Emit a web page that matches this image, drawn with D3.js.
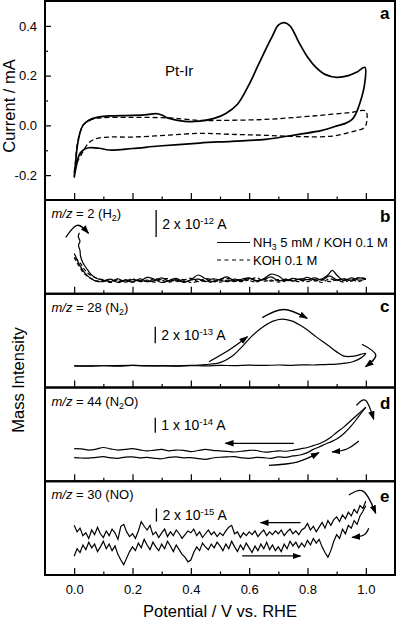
<!DOCTYPE html>
<html>
<head>
<meta charset="utf-8">
<script src="https://cdn.jsdelivr.net/npm/d3@7"></script>
<style>
  body { margin: 0; background: #fff; }
  svg { display: block; font-family: "Liberation Sans", Arial, sans-serif; }
</style>
</head>
<body>
<script>
  // ---- data ----
  // panel a: cyclic voltammograms, [E / V, I / mA], in scan order
  const cvNH3 = [
    [0, -0.21], [0.005, -0.15], [0.01, -0.09], [0.02, -0.03], [0.03, 0.0], [0.04, 0.012],
    [0.06, 0.026], [0.086, 0.034], [0.12, 0.038], [0.2, 0.04], [0.25, 0.043], [0.28, 0.047],
    [0.3, 0.042], [0.32, 0.03], [0.35, 0.021], [0.38, 0.016], [0.43, 0.017], [0.48, 0.028],
    [0.52, 0.048], [0.56, 0.085], [0.6, 0.165], [0.63, 0.24], [0.656, 0.304], [0.68, 0.36],
    [0.7, 0.403], [0.72, 0.413], [0.74, 0.4], [0.77, 0.335], [0.8, 0.275], [0.83, 0.232],
    [0.86, 0.205], [0.9, 0.193], [0.94, 0.2], [0.97, 0.215], [0.997, 0.233],
    [0.995, 0.16], [0.985, 0.11], [0.976, 0.077], [0.965, 0.045], [0.953, 0.024], [0.93, 0.008],
    [0.907, 0.0], [0.85, -0.02], [0.77, -0.036], [0.656, -0.056], [0.54, -0.064], [0.43, -0.071],
    [0.29, -0.083], [0.2, -0.093], [0.12, -0.099], [0.086, -0.092], [0.05, -0.09], [0.03, -0.1],
    [0.017, -0.12], [0.008, -0.16], [0, -0.21]
  ];
  const cvKOH = [
    [0, -0.19], [0.005, -0.14], [0.01, -0.08], [0.02, -0.03], [0.03, 0.0], [0.045, 0.015],
    [0.074, 0.028], [0.1, 0.031], [0.2, 0.032], [0.3, 0.031], [0.35, 0.028], [0.43, 0.02],
    [0.5, 0.02], [0.656, 0.024], [0.8, 0.036], [0.885, 0.045], [0.95, 0.052], [1.0, 0.057],
    [1.0, 0.0], [0.99, -0.013], [0.965, -0.022], [0.885, -0.043], [0.77, -0.045], [0.656, -0.04],
    [0.54, -0.036], [0.43, -0.032], [0.314, -0.04], [0.2, -0.047], [0.12, -0.047], [0.074, -0.054],
    [0.05, -0.07], [0.028, -0.11], [0.01, -0.15], [0, -0.19]
  ];

  // panels b-e: mass signal, [E / V, intensity in arbitrary units 0-10]
  const h2NH3Up = [
    [0, 4.3], [0.005, 4.0], [0.01, 3.6], [0.02, 3.0], [0.03, 2.5], [0.04, 2.1], [0.05, 1.8],
    [0.06, 1.6], [0.075, 1.35], [0.1, 1.3], [0.125, 1.55], [0.15, 1.2], [0.175, 1.45], [0.2, 1.25],
    [0.225, 1.6], [0.25, 1.3], [0.275, 1.4], [0.3, 1.7], [0.325, 1.35], [0.35, 1.5], [0.375, 1.2],
    [0.4, 1.45], [0.425, 1.55], [0.45, 1.3], [0.475, 1.6], [0.5, 1.45], [0.525, 1.3], [0.55, 1.55],
    [0.575, 1.4], [0.6, 1.65], [0.625, 1.35], [0.65, 1.5], [0.675, 1.8], [0.7, 1.4], [0.725, 1.55],
    [0.75, 1.35], [0.775, 1.6], [0.8, 1.5], [0.825, 1.7], [0.85, 1.45], [0.875, 1.9], [0.9, 1.5],
    [0.925, 1.6], [0.95, 1.45], [0.975, 1.7], [1.0, 1.55]
  ];
  const h2NH3Down = [
    [1.0, 1.55], [0.975, 1.45], [0.95, 1.7], [0.925, 1.4], [0.9, 2.0], [0.885, 2.5], [0.87, 2.0],
    [0.85, 1.6], [0.825, 1.45], [0.8, 1.75], [0.775, 1.5], [0.75, 1.65], [0.725, 1.4], [0.7, 1.9],
    [0.675, 2.1], [0.65, 1.6], [0.625, 1.4], [0.6, 1.7], [0.575, 1.55], [0.55, 1.35], [0.525, 1.8],
    [0.5, 1.55], [0.475, 1.3], [0.45, 1.6], [0.425, 2.0], [0.4, 1.5], [0.375, 1.3], [0.35, 1.65],
    [0.325, 1.4], [0.3, 1.2], [0.275, 1.55], [0.25, 1.75], [0.225, 1.35], [0.2, 1.5], [0.175, 1.25],
    [0.15, 1.6], [0.125, 1.3], [0.1, 1.45], [0.08, 1.6], [0.06, 2.0], [0.045, 2.6], [0.03, 3.3],
    [0.022, 4.0], [0.02, 4.6], [0.015, 5.2], [0.02, 5.6], [0.014, 6.1], [0.018, 6.5]
  ];
  const h2KOHUp = [
    [0, 3.9], [0.005, 3.6], [0.01, 3.3], [0.02, 2.8], [0.03, 2.3], [0.04, 2.0], [0.05, 1.75],
    [0.065, 1.5], [0.08, 1.35], [0.1, 1.4], [0.125, 1.2], [0.15, 1.5], [0.175, 1.35], [0.2, 1.6],
    [0.225, 1.3], [0.25, 1.45], [0.275, 1.25], [0.3, 1.55], [0.325, 1.6], [0.35, 1.3], [0.375, 1.45],
    [0.4, 1.65], [0.425, 1.3], [0.45, 1.4], [0.475, 1.2], [0.5, 1.5], [0.525, 1.65], [0.55, 1.4],
    [0.575, 1.3], [0.6, 1.5], [0.625, 1.7], [0.65, 1.35], [0.675, 1.45], [0.7, 1.25], [0.725, 1.5],
    [0.75, 1.4], [0.775, 1.3], [0.8, 1.55], [0.825, 1.35], [0.85, 1.5], [0.875, 1.3], [0.9, 1.45],
    [0.925, 1.25], [0.95, 1.5], [0.975, 1.3], [1.0, 1.6]
  ];
  const h2KOHDown = [
    [1.0, 1.6], [0.975, 1.7], [0.95, 1.35], [0.925, 1.55], [0.9, 1.4], [0.875, 1.6], [0.85, 1.2],
    [0.825, 1.5], [0.8, 1.3], [0.775, 1.45], [0.75, 1.6], [0.725, 1.3], [0.7, 1.5], [0.675, 1.35],
    [0.65, 1.6], [0.625, 1.25], [0.6, 1.4], [0.575, 1.55], [0.55, 1.3], [0.525, 1.45], [0.5, 1.25],
    [0.475, 1.5], [0.45, 1.6], [0.425, 1.35], [0.4, 1.2], [0.375, 1.5], [0.35, 1.4], [0.325, 1.25],
    [0.3, 1.45], [0.275, 1.6], [0.25, 1.3], [0.225, 1.45], [0.2, 1.25], [0.175, 1.5], [0.15, 1.3],
    [0.125, 1.45], [0.1, 1.5], [0.075, 1.7], [0.05, 2.1], [0.035, 2.6], [0.025, 3.1], [0.015, 3.5],
    [0.005, 3.8], [0, 4.0]
  ];

  const n2Up = [
    [0, 2.3], [0.1, 2.32], [0.2, 2.35], [0.3, 2.3], [0.4, 2.36], [0.45, 2.45], [0.5, 2.65],
    [0.54, 3.3], [0.58, 4.5], [0.61, 5.5], [0.64, 6.3], [0.68, 7.05], [0.713, 7.3], [0.745, 7.1],
    [0.79, 6.35], [0.83, 5.4], [0.87, 4.5], [0.9, 3.8], [0.925, 3.35], [0.96, 3.35], [0.99, 3.6],
    [1.0, 3.65]
  ];
  const n2Down = [
    [1.0, 3.65], [0.99, 3.3], [0.975, 3.0], [0.955, 2.75], [0.93, 2.6], [0.9, 2.5], [0.86, 2.45],
    [0.82, 2.4], [0.78, 2.42], [0.74, 2.36], [0.7, 2.4], [0.65, 2.35], [0.6, 2.38], [0.55, 2.33],
    [0.5, 2.36], [0.45, 2.3], [0.4, 2.34], [0.35, 2.28], [0.3, 2.33], [0.25, 2.3], [0.2, 2.35],
    [0.15, 2.28], [0.1, 2.32], [0.05, 2.27], [0, 2.3]
  ];

  const n2oUp = [
    [0, 2.52], [0.025, 2.48], [0.05, 2.46], [0.075, 2.55], [0.1, 2.62], [0.125, 2.5], [0.15, 2.45],
    [0.175, 2.58], [0.2, 2.6], [0.225, 2.5], [0.25, 2.55], [0.275, 2.45], [0.3, 2.4], [0.325, 2.55],
    [0.35, 2.6], [0.375, 2.5], [0.4, 2.52], [0.425, 2.42], [0.45, 2.34], [0.475, 2.48], [0.5, 2.56],
    [0.525, 2.6], [0.55, 2.62], [0.575, 2.5], [0.6, 2.45], [0.625, 2.55], [0.65, 2.52], [0.675, 2.44],
    [0.7, 2.6], [0.725, 2.55], [0.75, 2.7], [0.775, 2.8], [0.8, 3.05], [0.82, 3.4], [0.84, 3.65],
    [0.86, 3.95], [0.88, 4.2], [0.9, 4.5], [0.925, 5.1], [0.95, 5.9], [0.975, 6.9], [1.0, 7.9]
  ];
  const n2oDown = [
    [1.0, 7.9], [0.975, 7.2], [0.95, 6.5], [0.925, 5.8], [0.9, 5.2], [0.88, 4.7], [0.86, 4.3],
    [0.84, 4.0], [0.82, 3.8], [0.8, 3.6], [0.775, 3.45], [0.75, 3.3], [0.725, 3.2], [0.7, 3.25],
    [0.675, 3.15], [0.65, 3.12], [0.625, 3.28], [0.6, 3.3], [0.575, 3.2], [0.55, 3.12], [0.525, 3.18],
    [0.5, 3.25], [0.475, 3.3], [0.45, 3.4], [0.425, 3.28], [0.4, 3.16], [0.375, 3.3], [0.35, 3.33],
    [0.325, 3.25], [0.3, 3.4], [0.275, 3.32], [0.25, 3.23], [0.225, 3.35], [0.2, 3.48], [0.175, 3.4],
    [0.15, 3.33], [0.125, 3.45], [0.1, 3.6], [0.075, 3.42], [0.05, 3.33], [0.025, 3.45], [0, 3.48]
  ];

  // NO signal sampled every 0.01 V from 0 to 1 V
  const noStep = 0.01;
  const noReturn = [
    5.3, 4.6, 5.0, 4.2, 4.5, 3.9, 4.8, 4.3, 5.1, 4.4,
    4.0, 4.7, 4.2, 4.9, 4.5, 3.8, 5.2, 5.4, 4.6, 4.1,
    4.4, 3.9, 4.7, 5.7, 5.2, 4.8, 5.3, 4.3, 4.6, 4.0,
    4.5, 4.9, 4.1, 4.6, 4.2, 4.8, 4.4, 3.9, 4.3, 4.7,
    4.5, 4.9, 4.2, 4.6, 4.0, 4.4, 4.8, 4.3, 4.6, 4.1,
    4.5, 4.2, 4.7, 5.1, 5.3, 4.4, 4.6, 4.0, 4.5, 4.2,
    4.6, 4.3, 4.7, 4.1, 4.5, 4.8, 4.2, 4.6, 4.3, 4.7,
    4.4, 4.8, 4.2, 4.6, 4.9, 4.4, 4.7, 4.3, 4.8, 5.0,
    5.5, 4.8, 5.2, 4.6, 5.1, 5.6, 5.0, 5.8, 5.3, 5.9,
    6.2, 5.7, 6.4, 6.0, 6.7, 6.3, 7.0, 6.6, 7.4, 7.1,
    7.9
  ];
  const noForward = [
    2.0, 2.8, 2.4, 3.2, 2.7, 3.5, 2.9, 3.3, 2.5, 3.0,
    3.6, 2.8, 3.3, 2.6, 3.1, 2.2, 1.6, 1.1, 1.8, 2.5,
    3.0, 2.6, 3.4, 2.9, 3.8, 3.2, 2.7, 3.5, 3.0, 2.6,
    3.3, 2.8, 3.6, 3.1, 2.5, 3.2, 2.7, 2.2, 1.9, 1.4,
    1.6, 2.4, 3.0, 2.6, 3.4, 3.0, 2.7, 3.3, 2.9, 3.5,
    3.1, 2.6, 3.3, 2.8, 3.6, 3.0, 2.5, 3.2, 2.7, 3.4,
    2.9, 2.4, 3.1, 2.6, 3.3, 2.8, 3.5, 2.7, 3.2, 2.6,
    3.0, 2.5, 3.3, 2.8, 3.6, 3.1, 3.5, 2.9, 3.4, 3.0,
    3.7, 3.2, 3.9, 3.4, 3.8, 3.0, 2.4, 1.9, 2.6, 3.6,
    4.3, 3.9, 4.9, 4.4, 5.3, 5.0, 5.8, 5.4, 6.3, 6.8,
    7.4
  ];

  // labels
  const panelLetters = ['a', 'b', 'c', 'd', 'e'];
  const massLabels = [
    [['m/z', 'i'], [' = 2 (H', ''], ['2', 'sub'], [')', '']],
    [['m/z', 'i'], [' = 28 (N', ''], ['2', 'sub'], [')', '']],
    [['m/z', 'i'], [' = 44 (N', ''], ['2', 'sub'], ['O)', '']],
    [['m/z', 'i'], [' = 30 (NO)', '']]
  ];
  const barMantissa = ['2', '2', '1', '2'];
  const barExponent = ['-12', '-13', '-14', '-15'];
  const barSpan = [[6.05, 8.93], [4.71, 6.49], [5.18, 6.78], [5.69, 7.11]];
  const barPotential = [0.281, 0.278, 0.278, 0.282];
  const xMajor = [0, 0.2, 0.4, 0.6, 0.8, 1.0];
  const xMinor = [0.1, 0.3, 0.5, 0.7, 0.9];
  const yMajorA = [-0.2, 0, 0.2, 0.4];
  const yMinorA = [-0.1, 0.1, 0.3];

  // scan-direction arrows per panel, [E, intensity] points
  const scanArrows = [
    [[[-0.029, 6.0], [0.01, 7.3], [0.049, 6.45]]],
    [[[0.462, 2.75], [0.531, 4.0], [0.594, 5.42]],
     [[0.645, 7.45], [0.719, 8.32], [0.799, 7.38]],
     [[0.987, 4.61], [1.034, 3.47], [0.999, 2.22]]],
    [[[0.753, 4.05], [0.519, 4.05]],
     [[0.668, 1.7], [0.764, 2.05], [0.839, 3.05]],
     [[0.976, 4.29], [0.935, 3.44], [0.885, 3.12]],
     [[0.968, 8.1], [1.0, 8.61], [1.027, 6.61]]],
    [[[0.776, 5.58], [0.639, 5.58]],
     [[0.576, 2.03], [0.776, 2.03]],
     [[0.942, 8.53], [0.993, 8.89], [1.034, 6.58]],
     [[1.01, 4.98], [0.993, 4.27], [0.953, 4.02]]]
  ];

  // ---- layout ----
  const width = 397;
  const height = 622;
  const left = 45;
  const right = 395;
  const msTop = 200;
  const msH = 93.75;

  const svg = d3.select('body')
          .append('svg')
          .attr('width', width)
          .attr('height', height);

  svg.append('defs').append('marker')
          .attr('id', 'head')
          .attr('viewBox', '0 -4 9 8')
          .attr('refX', 8)
          .attr('refY', 0)
          .attr('markerUnits', 'userSpaceOnUse')
          .attr('markerWidth', 9)
          .attr('markerHeight', 8)
          .attr('orient', 'auto')
          .append('path')
          .attr('d', 'M0,-3.2L9,0L0,3.2Z')
          .attr('fill', '#000');

  const x = d3.scaleLinear().domain([-0.1, 1.1]).range([left, right]);

  function rich(sel, parts) {
    let shift = 0;
    parts.forEach(([t, s]) => {
      const ts = sel.append('tspan').text(t);
      const target = s === 'sub' ? 3 : s === 'sup' ? -5 : 0;
      if (target !== shift) { ts.attr('dy', target - shift); shift = target; }
      if (s === 'i') ts.attr('font-style', 'italic');
      if (s === 'sub' || s === 'sup') ts.attr('font-size', '0.68em');
    });
  }

  function bottomTicks(bottom, withLabels) {
    const g = svg.append('g').attr('transform', `translate(0,${bottom})`);
    g.call(d3.axisBottom(x).tickValues(xMajor).tickSizeInner(-7).tickSizeOuter(0)
            .tickPadding(10)
            .tickFormat(withLabels ? d => d.toFixed(1) : ''));
    g.append('g').call(d3.axisBottom(x).tickValues(xMinor).tickSizeInner(-3.5).tickSizeOuter(0)
            .tickFormat(''));
    g.selectAll('.domain').remove();
    g.selectAll('line').attr('stroke-width', 1.2);
    g.selectAll('text').attr('font-size', 13).attr('font-family', null).attr('fill', '#000');
  }

  // ---- panel a ----
  const ya = d3.scaleLinear().domain([-0.3, 0.5]).range([200, 1]);
  const lineA = d3.line().x(d => x(d[0])).y(d => ya(d[1])).curve(d3.curveCatmullRom.alpha(0.5));

  svg.append('path').datum(cvKOH).attr('d', lineA)
          .attr('fill', 'none').attr('stroke', '#000').attr('stroke-width', 1.3)
          .attr('stroke-dasharray', '5,3');
  svg.append('path').datum(cvNH3).attr('d', lineA)
          .attr('fill', 'none').attr('stroke', '#000').attr('stroke-width', 1.7);

  const ga = svg.append('g').attr('transform', `translate(${left},0)`);
  ga.call(d3.axisLeft(ya).tickValues(yMajorA).tickSizeInner(-6).tickSizeOuter(0)
          .tickPadding(8).tickFormat(d => d.toFixed(1)));
  ga.append('g').call(d3.axisLeft(ya).tickValues(yMinorA).tickSizeInner(-3).tickSizeOuter(0)
          .tickFormat(''));
  ga.selectAll('.domain').remove();
  ga.selectAll('line').attr('stroke-width', 1.2);
  ga.selectAll('text').attr('font-size', 13).attr('font-family', null).attr('fill', '#000');
  bottomTicks(200, false);

  svg.append('text').attr('x', 165).attr('y', 76).attr('font-size', 15).text('Pt-Ir');

  // ---- panels b-e ----
  const msSeries = [
    [{ d: h2NH3Up, dash: null }, { d: h2NH3Down, dash: null },
     { d: h2KOHUp, dash: '4,2.5' }, { d: h2KOHDown, dash: '4,2.5' }],
    [{ d: n2Up }, { d: n2Down }],
    [{ d: n2oUp }, { d: n2oDown }],
    [{ d: noForward.map((v, i) => [i * noStep, v]), linear: true },
     { d: noReturn.map((v, i) => [i * noStep, v]), linear: true }]
  ];

  msSeries.forEach((series, k) => {
    const top = msTop + k * msH;
    const bottom = top + msH;
    const y = d3.scaleLinear().domain([0, 10]).range([bottom, top]);
    const line = d3.line().x(d => x(d[0])).y(d => y(d[1]));

    series.forEach(s => {
      svg.append('path').datum(s.d)
              .attr('d', line.curve(s.linear ? d3.curveLinear : d3.curveCatmullRom.alpha(0.5)))
              .attr('fill', 'none').attr('stroke', '#000').attr('stroke-width', 1.2)
              .attr('stroke-dasharray', s.dash || null);
    });

    scanArrows[k].forEach(pts => {
      svg.append('path').datum(pts)
              .attr('d', d3.line().x(d => x(d[0])).y(d => y(d[1])).curve(d3.curveNatural))
              .attr('fill', 'none').attr('stroke', '#000').attr('stroke-width', 1.3)
              .attr('marker-end', 'url(#head)');
    });

    // scale bar
    const bx = x(barPotential[k]);
    svg.append('line').attr('x1', bx).attr('x2', bx)
            .attr('y1', y(barSpan[k][0])).attr('y2', y(barSpan[k][1]))
            .attr('stroke', '#000').attr('stroke-width', 1.3);
    const bt = svg.append('text').attr('x', bx + 6)
            .attr('y', (y(barSpan[k][0]) + y(barSpan[k][1])) / 2 + 5)
            .attr('font-size', 14);
    rich(bt, [[barMantissa[k] + ' x 10', ''], [barExponent[k], 'sup'], [' A', '']]);

    const lt = svg.append('text').attr('x', 51.5).attr('y', top + 18).attr('font-size', 13);
    rich(lt, massLabels[k]);

    bottomTicks(bottom, k === msSeries.length - 1);
  });

  // legend in panel b
  const legend = [
    { dash: null, parts: [['NH', ''], ['3', 'sub'], [' 5 mM / KOH 0.1 M', '']], y: 242.5 },
    { dash: '4,3.5', parts: [['KOH 0.1 M', '']], y: 260 }
  ];
  legend.forEach(l => {
    svg.append('line').attr('x1', 217).attr('x2', 250).attr('y1', l.y).attr('y2', l.y)
            .attr('stroke', '#000').attr('stroke-width', 1.2).attr('stroke-dasharray', l.dash);
    const t = svg.append('text').attr('x', 253).attr('y', l.y + 4.5).attr('font-size', 13);
    rich(t, l.parts);
  });

  // frames
  svg.append('rect').attr('x', left).attr('y', 1).attr('width', right - left).attr('height', 199)
          .attr('fill', 'none').attr('stroke', '#000').attr('stroke-width', 2);
  for (let k = 0; k < 4; k++) {
    svg.append('rect').attr('x', left).attr('y', msTop + k * msH)
            .attr('width', right - left).attr('height', msH)
            .attr('fill', 'none').attr('stroke', '#000').attr('stroke-width', 2);
  }

  // panel letters
  const letterY = [19, 221.5, 312, 409, 502];
  panelLetters.forEach((c, i) => {
    svg.append('text').attr('x', 380).attr('y', letterY[i])
            .attr('font-size', 17).attr('font-weight', 'bold').text(c);
  });

  // axis titles
  svg.append('text').attr('transform', 'translate(15,106) rotate(-90)')
          .attr('text-anchor', 'middle').attr('font-size', 16.5).text('Current / mA');
  svg.append('text').attr('transform', 'translate(24,380) rotate(-90)')
          .attr('text-anchor', 'middle').attr('font-size', 16.5).text('Mass Intensity');
  svg.append('text').attr('x', (left + right) / 2).attr('y', 617)
          .attr('text-anchor', 'middle').attr('font-size', 16.5).text('Potential / V vs. RHE');
</script>
</body>
</html>
